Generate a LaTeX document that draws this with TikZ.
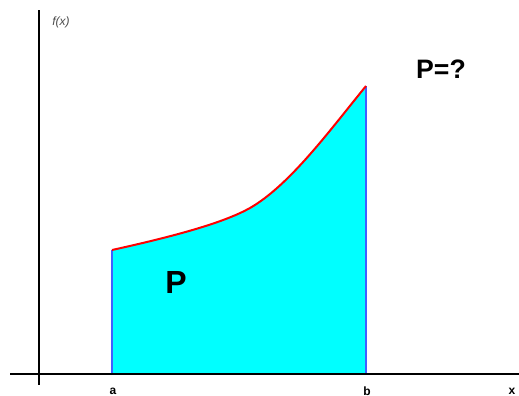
\documentclass[tikz,border=0pt]{standalone}
\usepackage{fontspec}
\setmainfont{Liberation Sans}
\usetikzlibrary{positioning}
\definecolor{areacyan}{RGB}{0,255,255}
\definecolor{edgeblue}{RGB}{64,96,255}

\begin{document}
\begin{tikzpicture}[x=0.75pt, y=-0.75pt, thick,
    axis/.style={line width=1.6pt, black},
    edge/.style={line width=0.8pt, edgeblue},
    curve/.style={line width=1.5pt, red},
    tick/.style={font=\fontsize{9}{9}\selectfont\bfseries}]
    \useasboundingbox (0,0) rectangle (519,396);

    % Points
    \coordinate (origin) at (39,374);
    \coordinate (a) at (112,374);
    \coordinate (b) at (366,374);
    \coordinate (fa) at (112,250);
    \coordinate (fb) at (366,86);

    % Area under the curve
    \fill [areacyan] (a) -- (fa) .. controls (180,235) and (225,222) .. (250,208)
        .. controls (290,185) and (330,130) .. (fb) -- (b) -- cycle;
    \draw [edge] (a) -- (fa);
    \draw [edge] (b) -- (fb);
    \draw [curve] (fa) .. controls (180,235) and (225,222) .. (250,208)
        .. controls (290,185) and (330,130) .. (fb);

    % Axes
    \draw [axis] (10,374) -- (519,374);
    \draw [axis] (39,10) -- (39,385);

    % Labels
    \node [font=\fontsize{9}{9}\selectfont\itshape, text=black!70] (fx) at (61,22) {f(x)};
    \node [tick] (la) at (113,391) {a};
    \node [tick] (lb) at (367,391) {b};
    \node [tick] (lx) at (512,391) {x};
    \node [font=\fontsize{24}{24}\selectfont\bfseries] (P) at (176,282) {P};
    \node [font=\fontsize{20}{20}\selectfont\bfseries] (Pq) at (441,69) {P=?};
\end{tikzpicture}
\end{document}
